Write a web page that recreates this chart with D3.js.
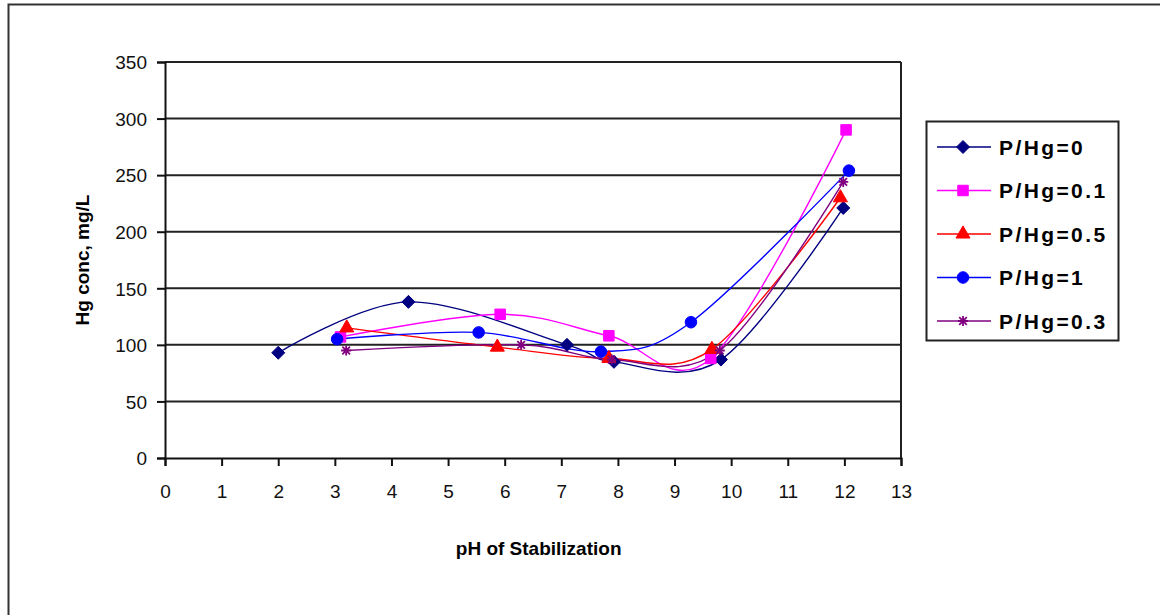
<!DOCTYPE html>
<html>
<head>
<meta charset="utf-8">
<script src="https://cdn.jsdelivr.net/npm/d3@7"></script>
<style>
  html, body { margin: 0; padding: 0; background: #fff; }
  svg { display: block; font-family: "Liberation Sans", Arial, sans-serif; }
</style>
</head>
<body>
<svg id="chart" width="1160" height="615"></svg>
<script>
// Hg concentration in leachate vs. stabilization pH, one series per P/Hg ratio
const seriesNames = ["P/Hg=0", "P/Hg=0.1", "P/Hg=0.5", "P/Hg=1", "P/Hg=0.3"];
const seriesColors = ["#000080", "#FF00FF", "#FF0000", "#0000FF", "#800080"];
const seriesMarkers = ["diamond", "square", "triangle", "circle", "star"];

const phPHg0   = [2.0, 4.3, 7.1, 7.93, 9.82, 11.98];
const hgPHg0   = [93, 138, 100, 85, 87, 221];
const phPHg01  = [3.1, 5.92, 7.84, 9.64, 12.03];
const hgPHg01  = [107, 127, 108, 88, 290];
const phPHg05  = [3.21, 5.87, 7.84, 9.66, 11.93];
const hgPHg05  = [115, 98, 88, 96, 230];
const phPHg1   = [3.04, 5.54, 7.70, 9.29, 12.08];
const hgPHg1   = [105, 111, 94, 120, 254];
const phPHg03  = [3.2, 6.29, 7.89, 9.8, 11.98];
const hgPHg03  = [95, 100, 87, 95, 244];

const xTicks = d3.range(0, 14, 1);
const yTicks = d3.range(0, 351, 50);

const seriesX = [phPHg0, phPHg01, phPHg05, phPHg1, phPHg03];
const seriesY = [hgPHg0, hgPHg01, hgPHg05, hgPHg1, hgPHg03];
const series = seriesNames.map((name, i) => ({
  name, color: seriesColors[i], marker: seriesMarkers[i],
  points: seriesX[i].map((x, j) => ({ x, y: seriesY[i][j] }))
}));

const svg = d3.select("#chart");

// outer chart frame
svg.append("rect")
  .attr("x", 8.5).attr("y", 4.5).attr("width", 1160).attr("height", 620)
  .attr("fill", "#fff").attr("stroke", "#333").attr("stroke-width", 2);

const plot = { left: 165, right: 901, top: 62, bottom: 458 };
const x = d3.scaleLinear().domain([0, 13]).range([plot.left, plot.right]);
const y = d3.scaleLinear().domain([0, 350]).range([plot.bottom, plot.top]);

// horizontal gridlines
svg.append("g")
  .selectAll("line")
  .data(yTicks.filter(d => d > 0))
  .join("line")
  .attr("x1", plot.left).attr("x2", plot.right)
  .attr("y1", d => y(d)).attr("y2", d => y(d))
  .attr("stroke", "#222").attr("stroke-width", 2);

// right edge of plot area
svg.append("line")
  .attr("x1", plot.right).attr("x2", plot.right)
  .attr("y1", plot.top).attr("y2", plot.bottom)
  .attr("stroke", "#222").attr("stroke-width", 2);

// axes
const xAxis = d3.axisBottom(x).tickValues(xTicks).tickSize(8).tickPadding(19).tickFormat(d3.format("d"));
const yAxis = d3.axisLeft(y).tickValues(yTicks).tickSize(8).tickPadding(10).tickFormat(d3.format("d"));

const gx = svg.append("g").attr("transform", `translate(0,${plot.bottom})`).call(xAxis);
const gy = svg.append("g").attr("transform", `translate(${plot.left},0)`).call(yAxis);
[gx, gy].forEach(g => {
  g.select(".domain").attr("stroke", "#111").attr("stroke-width", 2);
  g.selectAll(".tick line").attr("stroke", "#111").attr("stroke-width", 2);
  g.selectAll(".tick text")
    .attr("fill", "#111")
    .style("font-family", "'Liberation Sans', Arial, sans-serif")
    .style("font-size", "19px");
});
gy.selectAll(".tick text").attr("dy", "0.36em");

// axis titles
svg.append("text")
  .attr("x", x(6.6)).attr("y", 555)
  .attr("text-anchor", "middle")
  .style("font-size", "19px").style("font-weight", "bold")
  .text("pH of Stabilization");

svg.append("text")
  .attr("transform", `translate(89,${y(175)}) rotate(-90)`)
  .attr("text-anchor", "middle")
  .style("font-size", "19px").style("font-weight", "bold")
  .text("Hg conc, mg/L");

// marker shapes
function markerPath(type) {
  switch (type) {
    case "diamond": return "M0,-6.5L6.5,0L0,6.5L-6.5,0Z";
    case "square": return d3.symbol(d3.symbolSquare, 110)();
    case "triangle": return d3.symbol(d3.symbolTriangle, 85)();
    case "circle": return d3.symbol(d3.symbolCircle, 105)();
    case "star": return "M-5,0H5M0,-5V5M-3.8,-3.8L3.8,3.8M-3.8,3.8L3.8,-3.8";
  }
}
function drawMarker(g, type, color) {
  const p = g.append("path").attr("d", markerPath(type));
  if (type === "star") {
    p.attr("fill", "none").attr("stroke", color).attr("stroke-width", 1.8);
  } else {
    p.attr("fill", color).attr("stroke", color).attr("stroke-width", 1);
  }
}

// smoothed series lines and markers
const line = d3.line()
  .x(d => x(d.x)).y(d => y(d.y))
  .curve(d3.curveCardinal.tension(0));

series.forEach(s => {
  svg.append("path")
    .datum(s.points)
    .attr("d", line)
    .attr("fill", "none")
    .attr("stroke", s.color)
    .attr("stroke-width", 1.4);
});
series.forEach(s => {
  s.points.forEach(p => {
    const g = svg.append("g").attr("transform", `translate(${x(p.x)},${y(p.y)})`);
    drawMarker(g, s.marker, s.color);
  });
});

// legend
const legend = svg.append("g");
legend.append("rect")
  .attr("x", 926.5).attr("y", 121.5).attr("width", 192).attr("height", 219)
  .attr("fill", "#fff").attr("stroke", "#222").attr("stroke-width", 2);

const legendY = d3.scalePoint().domain(seriesNames).range([147, 321]);
series.forEach(s => {
  const row = legend.append("g").attr("transform", `translate(0,${legendY(s.name)})`);
  row.append("line")
    .attr("x1", 937).attr("x2", 991).attr("y1", 0).attr("y2", 0)
    .attr("stroke", s.color).attr("stroke-width", 1.6);
  const m = row.append("g").attr("transform", "translate(963,0)");
  drawMarker(m, s.marker, s.color);
  row.append("text")
    .attr("x", 999).attr("y", 0).attr("dy", "0.36em")
    .style("font-size", "21px").style("font-weight", "bold")
    .style("letter-spacing", "2.4px")
    .text(s.name);
});
</script>
</body>
</html>
